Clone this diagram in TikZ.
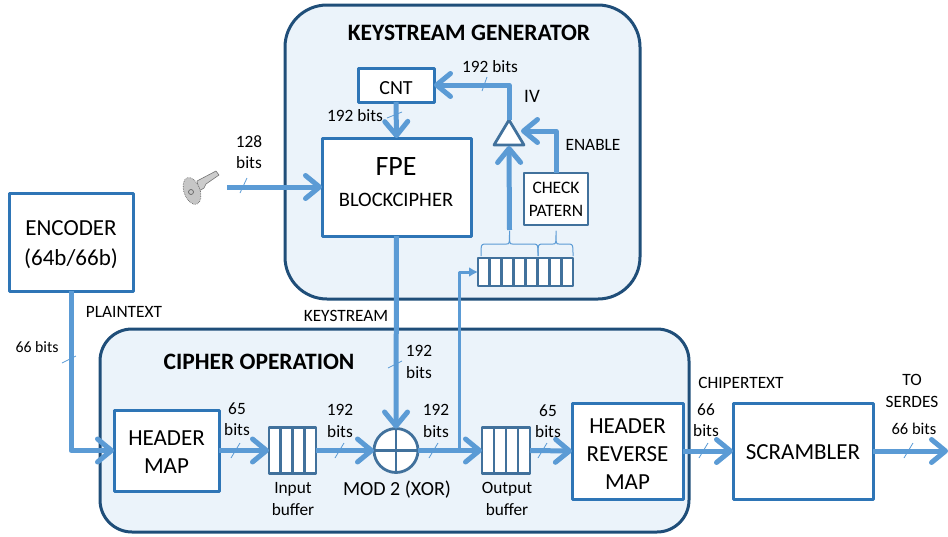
\documentclass[tikz,border=0pt]{standalone}
\usepackage{fontspec}
\setmainfont{Carlito}
\usetikzlibrary{arrows.meta,positioning,calc,shapes.geometric}
\definecolor{flow}{RGB}{91,155,213}
\definecolor{boxedge}{RGB}{46,117,182}
\definecolor{celledge}{RGB}{65,113,156}
\definecolor{paneledge}{RGB}{31,78,121}
\definecolor{panelfill}{RGB}{235,243,250}
\newcommand{\pad}[1]{\rule{0pt}{#1}}
\tikzset{
  panel/.style={draw=paneledge, line width=3pt, fill=panelfill, inner sep=0pt, outer sep=0pt},
  blk/.style={
    draw=boxedge, line width=3pt, fill=white, align=center, inner sep=0pt, outer sep=0pt,
    font=\fontsize{23}{28}\selectfont
  },
  small/.style={blk, draw=celledge, line width=2.4pt, font=\fontsize{17.5}{23}\selectfont},
  buf/.style={draw=celledge, line width=2.8pt, fill=white, inner sep=0pt, outer sep=0pt},
  arr/.style={-{Straight Barb[length=14pt,width=23pt,round]}, draw=flow, line width=5pt},
  thinarr/.style={-{Latex[length=9pt,width=10pt]}, draw=flow, line width=3pt},
  tick/.style={draw=flow, line width=0.8pt},
  brc/.style={draw=flow, line width=1pt},
  lbl/.style={font=\fontsize{17.3}{21.5}\selectfont, align=center, inner sep=0pt},
  ttl/.style={font=\fontsize{23.5}{28}\selectfont\bfseries, inner sep=0pt},
  every picture/.append style={line join=round, x=1pt, y=-1pt}
}
\begin{document}
\begin{tikzpicture}
  \useasboundingbox (0,0) rectangle (948,536);
  % panels
  \node[panel, rounded corners=42pt, minimum width=355pt, minimum height=294pt] (ksg) at (462.5,152) {};
  \node[panel, rounded corners=32pt, minimum width=589pt, minimum height=203pt] (cop) at (394.5,430.5) {};
  \node[ttl] (ksgt) at (469,33) {KEYSTREAM GENERATOR};
  \node[ttl] (copt) at (259,362) {CIPHER OPERATION};
  % data path
  \node[blk, minimum width=124pt, minimum height=98pt, font=\fontsize{23}{30}\selectfont] (enc) at (71,242) {\pad{21pt}ENCODER\\(64b/66b)};
  \node[blk, minimum width=105pt, minimum height=81pt] (hdr) at (166.5,450.5) {\pad{17pt}HEADER\\MAP};
  \node[buf, minimum width=47pt, minimum height=46pt, right=50pt of hdr] (ibuf) {};
  \node[draw=celledge, line width=2.8pt, fill=white, circle, minimum size=44pt, inner sep=0pt, outer sep=0pt] (xor) at (396,450.5) {};
  \node[buf, minimum width=48pt, minimum height=46pt] (obuf) at (506,450.5) {};
  \node[blk, minimum width=111pt, minimum height=96pt] (rev) at (627.5,451) {\pad{20pt}HEADER\\REVERSE\\MAP};
  \node[blk, minimum width=140pt, minimum height=96pt, right=50pt of rev] (scr) {\pad{17pt}SCRAMBLER};
  \coordinate (sout) at (948,451);
  \draw[celledge, line width=2.8pt] (xor.north) -- (xor.south) (xor.west) -- (xor.east);
  % keystream side
  \node[blk, minimum width=149pt, minimum height=98pt] (fpe) at (396.5,187) {};
  \node[font=\fontsize{28}{30}\selectfont, inner sep=0pt] (fpet) at (396,167) {FPE};
  \node[font=\fontsize{20.5}{24}\selectfont, inner sep=0pt] (fpeb) at (396,200) {BLOCKCIPHER};
  \node[blk, minimum width=76pt, minimum height=34pt, font=\fontsize{20}{24}\selectfont] (cnt) at (396,85) {\pad{19pt}CNT};
  \node[draw=celledge, line width=2.8pt, fill=white, isosceles triangle, isosceles triangle stretches,
    shape border rotate=90, minimum width=30pt, minimum height=25pt, inner sep=0pt, outer sep=0pt,
    anchor=apex] (gate) at (509,120) {};
  \node[small, minimum width=64pt, minimum height=52pt] (chk) at (556,199) {CHECK\\PATERN};
  \node[buf, minimum width=95pt, minimum height=28pt] (reg) at (525.5,272) {};
  \foreach \i in {1,...,3} {
    \draw[celledge, line width=2.8pt] ($(ibuf.north west)!\i/4!(ibuf.north east)$) -- ($(ibuf.south west)!\i/4!(ibuf.south east)$);
    \draw[celledge, line width=2.8pt] ($(obuf.north west)!\i/4!(obuf.north east)$) -- ($(obuf.south west)!\i/4!(obuf.south east)$);
  }
  \foreach \i in {1,...,7}
    \draw[celledge, line width=2.8pt] ($(reg.north west)!\i/8!(reg.north east)$) -- ($(reg.south west)!\i/8!(reg.south east)$);
  % brackets over the register
  \foreach \a/\b/\m in {481/538/509.5,538/573/556}
    \draw[brc] (\a,256) .. controls (\a,245) .. (\a+3,244) -- (\m-3,244)
      .. controls (\m,244) .. (\m,231) .. controls (\m,244) .. (\m+3,244)
      -- (\b-3,244) .. controls (\b,245) .. (\b,256);
  \coordinate (brtip) at (509.5,230);
  \coordinate (gatein) at (521,131);
  \coordinate (gatefoot) at (509,146);
  % key
  \coordinate (keyout) at (227,187);
  \fill[gray!40, draw=black!55, line width=0.6pt] (197,181) -- (216,171) -- (219,175) -- (206,184) -- (204,188) -- (199,191) -- cycle;
  \fill[gray!45, draw=black!60, line width=0.7pt, densely dotted, rotate around={20:(192,191)}] (192,191) ellipse (8pt and 14pt);
  \draw[black!60, line width=0.7pt] (191,192) circle (2.5pt);
  % connectors
  \draw[arr] (keyout) -- (fpe.west);
  \draw[arr] (enc.south) |- (hdr.west);
  \draw[arr] (hdr.east) -- (ibuf.west);
  \draw[arr] (ibuf.east) -- (xor.west);
  \draw[arr] (xor.east) -- (obuf.west);
  \draw[arr] (obuf.east) -- (rev.west);
  \draw[arr] (rev.east) -- (scr.west);
  \draw[arr] (scr.east) -- (sout);
  \draw[arr] (cnt.south) -- (fpe.north);
  \draw[arr] (fpe.south) -- (xor.north);
  \draw[arr] (gate.apex) |- (cnt.east);
  \draw[arr] (brtip) -- (gatefoot);
  \draw[arr] (chk.north) |- (gatein);
  \coordinate (tap) at (459,450.5);
  \draw[thinarr] (tap) |- (reg.west);
  % bus ticks
  \draw[tick] (240,193) -- (247,178);
  \draw[tick] (387,118) -- (402,112);
  \draw[tick] (482,91) -- (487,77);
  \draw[tick] (62,363) -- (76,356);
  \draw[tick] (388,368) -- (402,361);
  \foreach \x in {231,335,429,538,699,904}
    \draw[tick] (\x,458) -- (\x+9,443);
  % labels
  \node[lbl] (lkey) at (249,152) {128\\bits};
  \node[lbl] (liv) at (490,67) {192 bits};
  \node[lbl, font=\fontsize{19}{22}\selectfont] (iv) at (532,96) {IV};
  \node[lbl] (lcnt) at (355,116) {192 bits};
  \node[lbl] (en) at (593,145) {ENABLE};
  \node[lbl] (pt) at (124,312) {PLAINTEXT};
  \node[lbl] (ks) at (346,316) {KEYSTREAM};
  \node[lbl, font=\fontsize{15.8}{20}\selectfont] (lenc) at (37,347) {66 bits};
  \node[lbl] (lhdr) at (237,419) {65\\bits};
  \node[lbl] (lib) at (340,421) {192\\bits};
  \node[lbl] (lxor) at (436,421) {192\\bits};
  \node[lbl] (lfpe) at (419,362) {192\\bits};
  \node[lbl] (ibt) at (293,499) {Input\\buffer};
  \node[lbl, font=\fontsize{20}{24}\selectfont] (xort) at (397,490) {MOD 2 (XOR)};
  \node[lbl] (obt) at (507,499) {Output\\buffer};
  \node[lbl] (lob) at (548,421) {65\\bits};
  \node[lbl] (ct) at (741,383) {CHIPERTEXT};
  \node[lbl] (lrev) at (706,420) {66\\bits};
  \node[lbl] (ser) at (912,391) {TO\\SERDES};
  \node[lbl, font=\fontsize{16.5}{20}\selectfont] (lscr) at (914,429) {66 bits};
\end{tikzpicture}
\end{document}
